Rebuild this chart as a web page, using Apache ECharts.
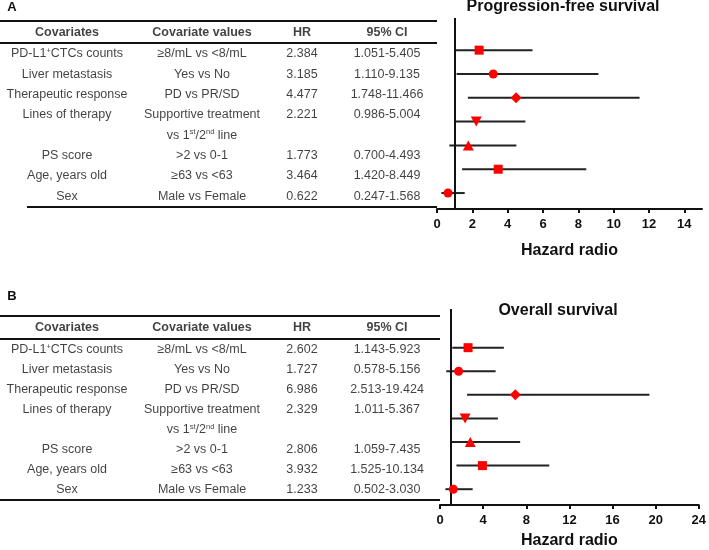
<!DOCTYPE html>
<html><head><meta charset="utf-8">
<script src="https://cdn.jsdelivr.net/npm/echarts@6/dist/echarts.min.js"></script>
<style>html,body{margin:0;padding:0;background:#fff}#c{width:709px;height:550px}</style>
</head><body><div id="c"></div>
<script>
// ---------- data ----------
const headers = ['Covariates', 'Covariate values', 'HR', '95% CI'];
const covariates = ['PD-L1{sup|+}CTCs counts', 'Liver metastasis', 'Therapeutic response', 'Lines of therapy', 'PS score', 'Age, years old', 'Sex'];
const covariateValues = ['≥8/mL vs <8/mL', 'Yes vs No', 'PD vs PR/SD', 'Supportive treatment\nvs 1{sup|st}/2{sup|nd} line', '>2 vs 0-1', '≥63 vs <63', 'Male vs Female'];
const markerSymbols = ['rect', 'circle', 'diamond', 'triangle-down', 'triangle', 'rect', 'circle'];
const pfsHR   = [2.384, 3.185, 4.477, 2.221, 1.773, 3.464, 0.622];
const pfsLow  = [1.051, 1.110, 1.748, 0.986, 0.700, 1.420, 0.247];
const pfsHigh = [5.405, 9.135, 11.466, 5.004, 4.493, 8.449, 1.568];
const osHR    = [2.602, 1.727, 6.986, 2.329, 2.806, 3.932, 1.233];
const osLow   = [1.143, 0.578, 2.513, 1.011, 1.059, 1.525, 0.502];
const osHigh  = [5.923, 5.156, 19.424, 5.367, 7.435, 10.134, 3.030];
const pfsTicks = [0, 2, 4, 6, 8, 10, 12, 14];
const osTicks  = [0, 4, 8, 12, 16, 20, 24];
const panelTitles = ['Progression-free survival', 'Overall survival'];
const panelLetters = ['A', 'B'];
const axisTitle = 'Hazard radio';

// ---------- layout / style ----------
const FONT = '"Liberation Sans", Arial, sans-serif';
const INK = '#111';
const RED = '#ff0000';
const COLS = [67, 202, 302, 387];
const tableLayouts = [
  {top: 21, bottom: 207, headerY: 33, firstRowY: 54, pitch: 20.3, width: 437, headLine: 43, bottomStart: 27},
  {top: 316, bottom: 500, headerY: 328, firstRowY: 350, pitch: 20, width: 440, headLine: 339, bottomStart: 0}
];
const forestLayouts = [
  {left: 437, top: 18, width: 265, height: 191, xmax: 15, ymin: -1.35, ymax: 6.67, ticks: pfsTicks, nameGap: 34, titleX: 563, titleY: 7},
  {left: 440, top: 309, width: 261, height: 198, xmax: 24, ymin: -1.64, ymax: 6.67, ticks: osTicks, nameGap: 28, titleX: 558, titleY: 311}
];
const symbolSizes = {rect: 9, circle: 9, diamond: [11, 11], triangle: [11, 10], 'triangle-down': [11, 10]};

function buildTableCells(ly, hrs, lows, highs) {
  const cells = [];
  const yv = py => (py - ly.firstRowY) / ly.pitch;
  headers.forEach((h, c) => cells.push({value: [COLS[c], yv(ly.headerY)], text: h, label: {fontWeight: 'bold'}}));
  let line = 0;
  covariates.forEach((cov, i) => {
    const row = [cov, covariateValues[i], hrs[i].toFixed(3), lows[i].toFixed(3) + '-' + highs[i].toFixed(3)];
    let n = 1;
    row.forEach((txt, c) => {
      txt.split('\n').forEach((t, k) => {
        cells.push({value: [COLS[c], line + k], text: t});
        n = Math.max(n, k + 1);
      });
    });
    line += n;
  });
  return cells;
}

const grids = [], xAxes = [], yAxes = [], series = [], graphics = [];
const panels = [[pfsHR, pfsLow, pfsHigh], [osHR, osLow, osHigh]];

panels.forEach((pd, p) => {
  const tl = tableLayouts[p], fl = forestLayouts[p];
  const [hrs, lows, highs] = pd;
  // table grid
  const tg = grids.length;
  grids.push({left: 0, top: tl.top, width: tl.width, height: tl.bottom - tl.top});
  xAxes.push({gridIndex: tg, type: 'value', min: 0, max: tl.width, show: false});
  yAxes.push({gridIndex: tg, type: 'value', inverse: true,
    min: (tl.top - tl.firstRowY) / tl.pitch, max: (tl.bottom - tl.firstRowY) / tl.pitch, show: false});
  series.push({
    type: 'scatter', xAxisIndex: tg, yAxisIndex: tg, silent: true, symbolSize: 0,
    data: buildTableCells(tl, hrs, lows, highs),
    label: {show: true, position: 'inside', formatter: q => q.data.text, color: INK,
      fontFamily: FONT, fontSize: 12.5, lineHeight: 15,
      rich: {sup: {fontSize: 7.5, fontFamily: FONT, color: INK, verticalAlign: 'top', lineHeight: 15}}}
  });
  // table rules
  graphics.push({type: 'line', shape: {x1: 0, y1: tl.top, x2: tl.width, y2: tl.top}, style: {stroke: INK, lineWidth: 2}});
  graphics.push({type: 'line', shape: {x1: 0, y1: tl.headLine, x2: tl.width, y2: tl.headLine}, style: {stroke: INK, lineWidth: 2}});
  graphics.push({type: 'line', shape: {x1: tl.bottomStart, y1: tl.bottom, x2: tl.width, y2: tl.bottom}, style: {stroke: INK, lineWidth: 2}});
  // forest grid
  const fg = grids.length;
  grids.push({left: fl.left, top: fl.top, width: fl.width, height: fl.height});
  xAxes.push({gridIndex: fg, type: 'value', min: 0, max: fl.xmax,
    axisLine: {show: true, onZero: false, lineStyle: {color: INK, width: 2}},
    axisTick: {show: true, customValues: fl.ticks, length: 4, lineStyle: {color: INK, width: 2}},
    axisLabel: {customValues: fl.ticks, color: INK, fontFamily: FONT, fontWeight: 'bold', fontSize: 13, margin: 9},
    splitLine: {show: false},
    name: axisTitle, nameLocation: 'middle', nameGap: fl.nameGap,
    nameTextStyle: {color: INK, fontFamily: FONT, fontWeight: 'bold', fontSize: 16}});
  yAxes.push({gridIndex: fg, type: 'value', inverse: true, min: fl.ymin, max: fl.ymax, show: false});
  series.push({
    type: 'custom', xAxisIndex: fg, yAxisIndex: fg, silent: true,
    data: lows.map((lo, i) => [lo, highs[i], i]),
    encode: {x: [0, 1], y: 2},
    renderItem: (params, api) => {
      const a = api.coord([api.value(0), api.value(2)]);
      const b = api.coord([api.value(1), api.value(2)]);
      return {type: 'line', shape: {x1: a[0], y1: a[1], x2: b[0], y2: b[1]}, style: {stroke: '#222', lineWidth: 2}};
    },
    markLine: {silent: true, symbol: 'none', label: {show: false},
      lineStyle: {color: INK, width: 2, type: 'solid'}, data: [{xAxis: 1}]}
  });
  series.push({
    type: 'scatter', xAxisIndex: fg, yAxisIndex: fg, silent: true, z: 5,
    data: hrs.map((h, i) => {
      const s = markerSymbols[i];
      return {value: [h, i], symbol: s === 'triangle-down' ? 'triangle' : s,
        symbolRotate: s === 'triangle-down' ? 180 : 0, symbolSize: symbolSizes[s]};
    }),
    itemStyle: {color: RED, opacity: 1}
  });
  graphics.push({type: 'text', x: fl.titleX, y: fl.titleY,
    style: {text: panelTitles[p], fill: INK, font: 'bold 16px ' + FONT, textAlign: 'center', textVerticalAlign: 'middle'}});
  graphics.push({type: 'text', x: 12, y: p === 0 ? 7 : 296,
    style: {text: panelLetters[p], fill: INK, font: 'bold 13px ' + FONT, textAlign: 'center', textVerticalAlign: 'middle'}});
});

const chart = echarts.init(document.getElementById('c'), null, {renderer: 'canvas'});
chart.setOption({
  animation: false,
  backgroundColor: '#fff',
  grid: grids, xAxis: xAxes, yAxis: yAxes, series: series,
  graphic: graphics
});
</script>
</body></html>
